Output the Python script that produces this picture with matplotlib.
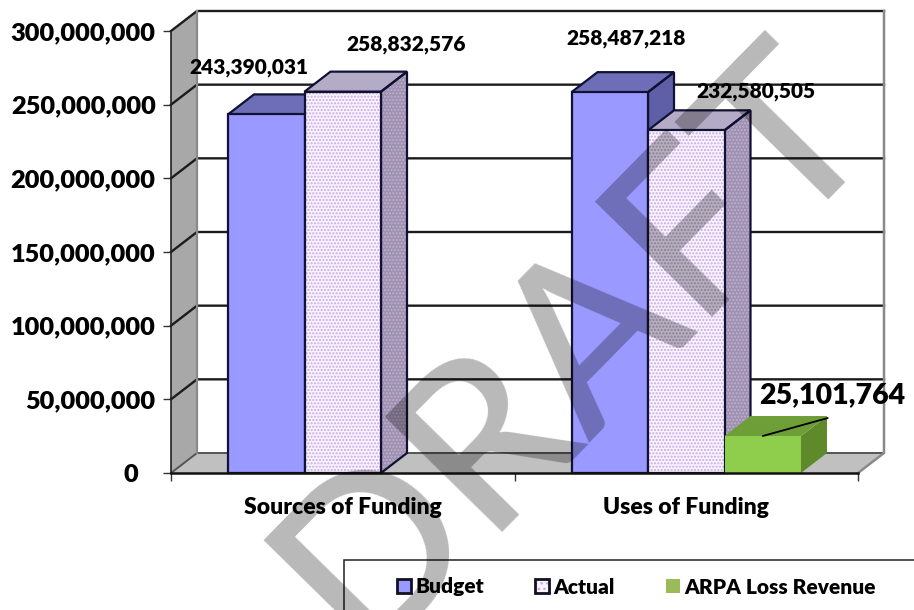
import matplotlib
matplotlib.use('Agg')
import matplotlib.pyplot as plt
from matplotlib.patches import Patch, Rectangle
from matplotlib.legend_handler import HandlerTuple
from matplotlib.transforms import ScaledTranslation

plt.rcParams['font.family'] = ['Lato', 'DejaVu Sans']
plt.rcParams['font.weight'] = 'heavy'
plt.rcParams['hatch.linewidth'] = 1.0

categories = ['Sources of Funding', 'Uses of Funding']
budget = [243390031, 258487218]
actual = [258832576, 232580505]
arpa = [0, 25101764]
y_ticks = [0, 50000000, 100000000, 150000000, 200000000, 250000000, 300000000]

W, H = 914, 610
fig = plt.figure(figsize=(W / 100, H / 100), dpi=100)
# front plane of the fake 3d box, in pixels of the picture
ax = fig.add_axes([171 / W, 1 - 473 / H, 687 / W, 442 / H])
ax.set_xlim(0, 2)
ax.set_ylim(0, 300000000)
ax.patch.set_visible(False)

# depth of the 3d effect converted to data units
dx = 26 / 687 * 2
dy = 20 / 442 * 300000000
bar_w = 76.5 / 343.5

# walls and floor
ax.fill([0, 0, dx, dx], [0, 300000000, 300000000 + dy, dy], color='#a8a8a8', lw=0, clip_on=False, zorder=1)
ax.fill([0, dx, 2 + dx, 2], [0, dy, dy, 0], color='#c0c0c0', lw=0, clip_on=False, zorder=1)
for t in y_ticks[1:]:
    ax.plot([0, dx, 2 + dx], [t, t + dy, t + dy], color='#1c1c1c', lw=1.7, clip_on=False, zorder=2,
            solid_joinstyle='miter')
ax.plot([0, dx, 2 + dx], [0, dy, dy], color='#555555', lw=1.4, clip_on=False, zorder=2)
ax.plot([dx, dx], [dy, 300000000 + dy], color='#8a8a8a', lw=1.6, clip_on=False, zorder=2)
ax.plot([2 + dx, 2 + dx, 2], [300000000 + dy, dy, 0], color='#8a8a8a', lw=1.8, clip_on=False, zorder=2)


def draw_bar(x, v, front, top, side, hatch=None, hatch_col=None, edge='#111133', z=3):
    x0 = x - bar_w / 2
    x1 = x + bar_w / 2
    lw = 1.6 if edge else 0
    ec = edge if edge else 'none'
    # top and side faces
    ax.fill([x0, x0 + dx, x1 + dx, x1], [v, v + dy, v + dy, v], facecolor=top,
            edgecolor='none', lw=0, clip_on=False, zorder=z)
    ax.fill([x1, x1 + dx, x1 + dx, x1], [0, dy, v + dy, v], facecolor=side,
            edgecolor=hatch_col if hatch else 'none', hatch=hatch, lw=0, clip_on=False, zorder=z)
    if edge:
        ax.fill([x0, x0 + dx, x1 + dx, x1], [v, v + dy, v + dy, v], fill=False, edgecolor=ec, lw=lw,
                clip_on=False, zorder=z)
        ax.fill([x1, x1 + dx, x1 + dx, x1], [0, dy, v + dy, v], fill=False, edgecolor=ec, lw=lw,
                clip_on=False, zorder=z)
    ax.bar(x, v, bar_w, color=front, edgecolor=hatch_col if hatch else 'none', hatch=hatch, lw=0,
           clip_on=False, zorder=z)
    if edge:
        ax.bar(x, v, bar_w, fill=False, edgecolor=ec, lw=lw, clip_on=False, zorder=z)


for i in range(len(categories)):
    x_start = i + 0.5 - bar_w * 1.5
    x_b = x_start + bar_w / 2
    x_a = x_b + bar_w
    x_g = x_a + bar_w
    draw_bar(x_b, budget[i], '#9999ff', '#6e6eb8', '#5f5fa8', z=3 + i)
    draw_bar(x_a, actual[i], '#f9f3fd', '#b4abc6', '#9b93a8', hatch='.....', hatch_col='#c7a9e6', z=3 + i)
    if arpa[i] > 0:
        draw_bar(x_g, arpa[i], '#8fce4c', '#6e9e37', '#5f8a2c', edge=None, z=3 + i)

# data labels, offsets are in pixels from the top of the bar
x_first = 0.5 - bar_w
x_second = 1.5 - bar_w
labels = [
    (x_first, budget[0], -17, 47, 15),
    (x_first + bar_w, actual[0], 63, 47, 15),
    (x_second, budget[1], 16, 54, 15),
    (x_second + bar_w, actual[1], 70, 39, 15),
    (x_second + 2 * bar_w, arpa[1], 69, 41, 20.5),
]
for x, v, ox, oy, fs in labels:
    ax.annotate(f'{v:,}', xy=(x, v), xytext=(ox, oy), textcoords='offset pixels', ha='center',
                va='center', fontsize=fs, color='black', zorder=20, annotation_clip=False)
ax.annotate('', xy=(x_second + 2 * bar_w, arpa[1]), xytext=(65, 18), textcoords='offset pixels',
            arrowprops=dict(arrowstyle='-', color='black', lw=1.3, shrinkA=0, shrinkB=0), zorder=20)

# axes
for s in ['top', 'right']:
    ax.spines[s].set_visible(False)
ax.spines['left'].set_color('#222222')
ax.spines['bottom'].set_color('#111111')
ax.spines['bottom'].set_linewidth(1.8)
ax.spines['bottom'].set_zorder(10)
ax.spines['left'].set_linewidth(1.2)
ax.set_yticks(y_ticks)
ax.set_yticklabels([f'{t:,}' for t in y_ticks], fontsize=18.3)
ax.set_xticks([0, 1, 2])
ax.set_xticklabels([])
ax.set_xticks([0.5, 1.5], minor=True)
ax.set_xticklabels(categories, minor=True, fontsize=16.5)
ax.tick_params(axis='x', which='minor', length=0, pad=17)
ax.tick_params(axis='x', which='major', length=6, width=1, color='#333333')
ax.tick_params(axis='y', length=6, width=1, color='#333333', pad=5)
# the zero label sits further left than the others
zero_lab = ax.get_yticklabels()[0]
zero_lab.set_transform(zero_lab.get_transform() + ScaledTranslation(-0.17, 0, fig.dpi_scale_trans))

# legend box runs off the bottom of the picture
fig.add_artist(Rectangle((344 / W, -0.02), (W - 344) / W + 0.01, 1 - 560 / H + 0.02, transform=fig.transFigure,
                         facecolor='white', edgecolor='#222222', lw=1.1, zorder=5))
h_budget = (Patch(facecolor='#9999ff'), Patch(fill=False, edgecolor='#111122', lw=2))
h_actual = (Patch(facecolor='#f9f3fd', edgecolor='#c9a8ea', hatch='...', lw=0), Patch(fill=False, edgecolor='#111122', lw=2))
h_arpa = Patch(facecolor='#9bbb59')
leg = fig.legend([h_budget, h_actual, h_arpa], ['Budget', 'Actual', 'ARPA Loss Revenue'],
                 handler_map={tuple: HandlerTuple(ndivide=1, pad=0)}, ncol=3, frameon=False,
                 loc='center left', bbox_to_anchor=(397 / W, 1 - 587 / H), fontsize=15,
                 handlelength=0.65, handleheight=0.65, handletextpad=0.24, columnspacing=2.45,
                 borderpad=0, borderaxespad=0)
leg.set_zorder(6)

# watermark
fig.text(360 / W, 1 - 655 / H, 'DRAFT', fontsize=165, fontweight='medium', color='black', alpha=0.28,
         rotation=45.5, rotation_mode='anchor', ha='left', va='baseline', zorder=30)

fig.savefig('out.png', dpi=100)
